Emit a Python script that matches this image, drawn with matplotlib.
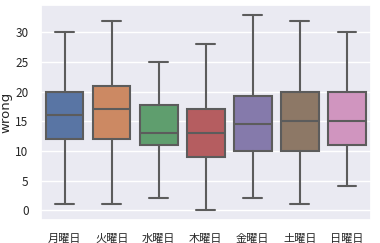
import matplotlib
matplotlib.use("Agg")
import matplotlib.pyplot as plt
import seaborn as sns

sns.set_theme(style="darkgrid")
plt.rcParams['font.family'] = ['Noto Sans CJK JP', 'DejaVu Sans']

days = ['月曜日', '火曜日', '水曜日', '木曜日', '金曜日', '土曜日', '日曜日']
whislo = [1, 1, 2, 0, 2, 1, 4]
q1 = [12, 12, 11, 9, 10, 10, 11]
med = [16, 17, 13, 13, 14.5, 15, 15]
q3 = [20, 21, 17.8, 17, 19.3, 20, 20]
whishi = [30, 32, 25, 28, 33, 32, 30]

stats = []
for i in range(len(days)):
    stats.append({'whislo': whislo[i], 'q1': q1[i], 'med': med[i],
                  'q3': q3[i], 'whishi': whishi[i], 'fliers': [], 'label': days[i]})

colors = sns.color_palette("deep", 7, desat=0.75)
lc = '#5c5c5c'

fig, ax = plt.subplots(figsize=(3.8, 2.43), dpi=100)
bp = ax.bxp(stats, positions=range(len(days)), widths=0.8, patch_artist=True,
            showfliers=False,
            boxprops=dict(edgecolor=lc, linewidth=1.5),
            medianprops=dict(color=lc, linewidth=1.5),
            whiskerprops=dict(color=lc, linewidth=1.5),
            capprops=dict(color=lc, linewidth=1.5))
for patch, c in zip(bp['boxes'], colors):
    patch.set_facecolor(c)

ax.set_xlim(-0.5, len(days) - 0.5)
ax.set_ylim(-1.65, 34.65)
ax.set_yticks([0, 5, 10, 15, 20, 25, 30])
ax.set_ylabel('wrong', fontsize=9.5, labelpad=2, family='DejaVu Sans')
ax.tick_params(axis='y', labelsize=8.5, pad=3)
ax.tick_params(axis='x', labelsize=8, pad=4)
ax.grid(axis='x', visible=False)

fig.subplots_adjust(left=0.108, right=0.975, bottom=0.095, top=0.98)
fig.savefig('out.png', dpi=100)
